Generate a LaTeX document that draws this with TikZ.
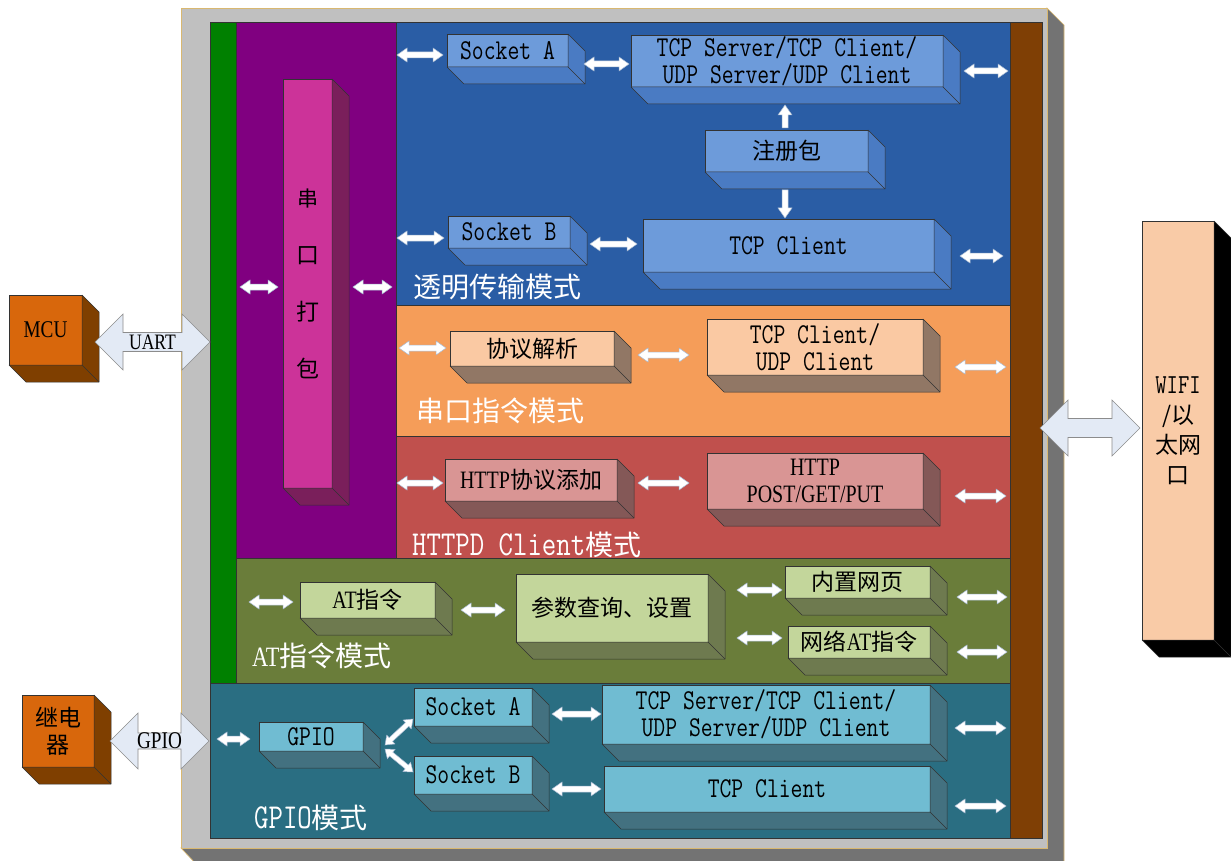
\documentclass[tikz,border=0pt]{standalone}
\usepackage{fontspec}
\setmainfont{Noto Sans CJK SC}
\newfontfamily\nser[FakeStretch=0.8]{Liberation Serif}
\usetikzlibrary{calc}
\definecolor{framegray}{HTML}{C0C0C0}
\definecolor{framedark}{HTML}{737373}
\definecolor{framegold}{HTML}{D9B870}
\definecolor{cgreen}{HTML}{008000}
\definecolor{cpurple}{HTML}{800080}
\definecolor{cblue}{HTML}{2A5DA5}
\definecolor{corange}{HTML}{F59D59}
\definecolor{cred}{HTML}{C0504D}
\definecolor{colive}{HTML}{6A7D3A}
\definecolor{cteal}{HTML}{2A6E82}
\definecolor{cbrown}{HTML}{7F3F05}
\definecolor{bluef}{HTML}{6D9BDA}
\definecolor{blues}{HTML}{4A7BC3}
\definecolor{pinkf}{HTML}{CC3399}
\definecolor{pinks}{HTML}{7A1F5B}
\definecolor{orangef}{HTML}{FAC9A3}
\definecolor{oranges}{HTML}{917765}
\definecolor{redf}{HTML}{D99594}
\definecolor{reds}{HTML}{845857}
\definecolor{olivef}{HTML}{C3D69B}
\definecolor{olives}{HTML}{6E7A4F}
\definecolor{tealf}{HTML}{70BCD2}
\definecolor{teals}{HTML}{437180}
\definecolor{mcuf}{HTML}{D8670C}
\definecolor{mcus}{HTML}{7F3F00}
\definecolor{wifif}{HTML}{F9CBA7}
\definecolor{arrbg}{HTML}{E3EAF5}
\definecolor{arrline}{HTML}{8C8C8C}
\definecolor{warrline}{HTML}{A9BBD3}
\newcommand\mo[1]{\scalebox{1}[1.25]{\ttfamily #1}}
\newcommand\ns[2][26]{{\nser\fontsize{#1}{#1}\selectfont #2}}
\tikzset{
  panel/.style={draw=black!80, line width=0.6pt, anchor=north west, outer sep=0pt, inner sep=0pt},
  cubefront/.style={draw=black!80, line width=0.5pt, outer sep=0pt, inner sep=0pt, align=center,
     text=black, anchor=north west, font=\fontsize{23}{27}\selectfont},
  cubeside/.style={draw=black!80, line width=0.5pt, line join=round},
  warr/.style={fill=white, draw=warrline, line width=0.5pt},
  barr/.style={fill=arrbg, draw=arrline, line width=0.6pt},
  lbl/.style={text=white, anchor=west, inner sep=0pt, font=\fontsize{28}{32}\selectfont}
}
\newcommand\cubebox[8]{%
  \node[cubefront, fill=#6, minimum width=#4pt, minimum height=#5pt] (#1) at (#2,#3) {#8};
  \filldraw[cubeside, fill=#7] (#1.north east) -- ++(17,17) -- ($(#1.south east)+(17,17)$)
     -- ($(#1.south west)+(17,17)$) -- (#1.south west) -- (#1.south east) -- cycle;
  \draw[cubeside] (#1.south east) -- ++(17,17);
}
\def\ah{10pt}\def\aw{7pt}\def\as{3pt}
\newcommand\dblarr[4][warr]{%
  \coordinate (#2s) at (#3); \coordinate (#2e) at (#4);
  \filldraw[#1] (#2s) -- ($(#2s)!\ah!(#2e)!\aw!90:(#2e)$) -- ($(#2s)!\ah!(#2e)!\as!90:(#2e)$)
    -- ($(#2e)!\ah!(#2s)!\as!-90:(#2s)$) -- ($(#2e)!\ah!(#2s)!\aw!-90:(#2s)$) -- (#2e)
    -- ($(#2e)!\ah!(#2s)!\aw!90:(#2s)$) -- ($(#2e)!\ah!(#2s)!\as!90:(#2s)$)
    -- ($(#2s)!\ah!(#2e)!\as!-90:(#2e)$) -- ($(#2s)!\ah!(#2e)!\aw!-90:(#2e)$) -- cycle;
}
\newcommand\sglarr[4][warr]{%
  \coordinate (#2s) at (#3); \coordinate (#2e) at (#4);
  \filldraw[#1] ($(#2s)!\as!90:(#2e)$) -- ($(#2e)!\ah!(#2s)!\as!-90:(#2s)$)
    -- ($(#2e)!\ah!(#2s)!\aw!-90:(#2s)$) -- (#2e)
    -- ($(#2e)!\ah!(#2s)!\aw!90:(#2s)$) -- ($(#2e)!\ah!(#2s)!\as!90:(#2s)$)
    -- ($(#2s)!\as!-90:(#2e)$) -- cycle;
}
\begin{document}
\begin{tikzpicture}[x=1pt,y=-1pt]
\useasboundingbox (0,0) rectangle (1231,861);
% outer frame
\filldraw[draw=framegold, line width=0.6pt, fill=framedark] (1047,8) -- (1064,25) -- (1064,866)
   -- (198,866) -- (181,848) -- (1047,848) -- cycle;
\node[panel, draw=framegold, fill=framegray, minimum width=866pt, minimum height=840pt] (frame) at (181,8) {};
% panels
\node[panel, fill=cgreen, minimum width=26pt, minimum height=661pt] (green) at (210,22) {};
\node[panel, fill=cpurple, minimum width=160pt, minimum height=536pt] (purple) at (236,22) {};
\node[panel, fill=cblue, minimum width=614pt, minimum height=283pt] (blue) at (396,22) {};
\node[panel, fill=corange, minimum width=614pt, minimum height=131pt] (orange) at (396,305) {};
\node[panel, fill=cred, minimum width=614pt, minimum height=122pt] (red) at (396,436) {};
\node[panel, fill=colive, minimum width=774pt, minimum height=125pt] (olive) at (236,558) {};
\node[panel, fill=cteal, minimum width=800pt, minimum height=155pt] (teal) at (210,683) {};
\node[panel, fill=cbrown, minimum width=32pt, minimum height=816pt] (brown) at (1010,22) {};
% boxes
\cubebox{pack}{283}{79}{49}{409}{pinkf}{pinks}{\fontsize{21}{27}\selectfont 串\\[30pt]口\\[30pt]打\\[30pt]包}
\cubebox{sockA}{447}{34}{121}{33}{bluef}{blues}{\mo{Socket A}}
\cubebox{tcpsA}{631}{35}{312}{52}{bluef}{blues}{\mo{TCP Server/TCP Client/}\\\mo{UDP Server/UDP Client}}
\cubebox{reg}{705}{130}{163}{42}{bluef}{blues}{注册包}
\cubebox{sockB}{448}{216}{122}{32}{bluef}{blues}{\mo{Socket B}}
\cubebox{tcpcA}{643}{219}{291}{53}{bluef}{blues}{\mo{TCP Client}}
\cubebox{proto}{450}{331}{164}{35}{orangef}{oranges}{协议解析}
\cubebox{tcpuB}{707}{319}{216}{56}{orangef}{oranges}{\mo{TCP Client/}\\\mo{UDP Client}}
\cubebox{httpadd}{445}{459}{172}{42}{redf}{reds}{\ns[25]{HTTP}协议添加}
\cubebox{httpm}{707}{453}{216}{56}{redf}{reds}{\ns[25]{HTTP}\\\ns[25]{POST/GET/PUT}}
\cubebox{at}{300}{582}{135}{36}{olivef}{olives}{\ns[25]{AT}指令}
\cubebox{param}{516}{574}{192}{68}{olivef}{olives}{参数查询、设置}
\cubebox{web}{785}{566}{145}{32}{olivef}{olives}{内置网页}
\cubebox{netat}{788}{626}{142}{32}{olivef}{olives}{网络\ns[25]{AT}指令}
\cubebox{gpio}{259}{722}{104}{29}{tealf}{teals}{\mo{GPIO}}
\cubebox{sockGA}{414}{688}{118}{38}{tealf}{teals}{\mo{Socket A}}
\cubebox{sockGB}{414}{756}{118}{38}{tealf}{teals}{\mo{Socket B}}
\cubebox{tcpsG}{602}{685}{328}{59}{tealf}{teals}{\mo{TCP Server/TCP Client/}\\\mo{UDP Server/UDP Client}}
\cubebox{tcpcG}{604}{766}{326}{46}{tealf}{teals}{\mo{TCP Client}}
\cubebox{mcu}{9}{295}{73}{70}{mcuf}{mcus}{\ns[24]{MCU}}
\cubebox{relay}{22}{695}{72}{72}{mcuf}{mcus}{继电\\器}
\cubebox{wifi}{1142}{221}{72}{419}{wifif}{black}{\fontsize{22}{26}\selectfont\mo{WIFI}\\[3pt]/以\\[3pt]太网\\[3pt]口}
% small arrows
\dblarr{b1}{397,55}{443,55}
\dblarr{b2}{584,64}{629,64}
\dblarr{b3}{964,71}{1008,71}
\sglarr{bu}{785,128}{785,105}
\sglarr{bd}{785,190}{785,218}
\dblarr{b6}{397,238}{444,238}
\dblarr{b7}{590,244}{637,244}
\dblarr{b8}{960,256}{1003,256}
\dblarr{p1}{240,287}{278,287}
\dblarr{p2}{353,287}{392,287}
\dblarr{o1}{399,348}{446,348}
\dblarr{o2}{638,355}{689,355}
\dblarr{o3}{955,367}{1006,367}
\dblarr{r1}{397,483}{443,483}
\dblarr{r2}{638,483}{689,483}
\dblarr{r3}{955,496}{1006,496}
\dblarr{a1}{249,602}{293,602}
\dblarr{a2}{461,610}{505,610}
\dblarr{a3}{737,590}{782,590}
\dblarr{a4}{737,638}{782,638}
\dblarr{a5}{957,597}{1007,597}
\dblarr{a6}{957,652}{1007,652}
\dblarr{g1}{217,739}{250,739}
\dblarr{g4}{552,714}{601,714}
\dblarr{g5}{552,789}{601,789}
\dblarr{g6}{955,728}{1006,728}
\dblarr{g7}{955,806}{1006,806}
\begin{scope}
\def\ah{8pt}\def\aw{6pt}\def\as{2.5pt}
\dblarr{g2}{385,745}{413,719}
\dblarr{g3}{385,749}{413,772}
\end{scope}
% big arrows
\begin{scope}
\def\ah{28pt}\def\aw{28pt}\def\as{9.5pt}
\dblarr[barr]{uart}{95,342}{210,342}
\dblarr[barr]{net}{1040,428}{1140,428}
\def\as{8pt}
\dblarr[barr]{gpa}{110,741}{209,741}
\end{scope}
\node[inner sep=0pt] (uartl) at ($(uarts)!.5!(uarte)$) {\ns[22]{UART}};
\node[inner sep=0pt] (gpal) at ($(gpas)!.5!(gpae)$) {\ns[24]{GPIO}};
% section labels
\node[lbl] (lblT) at (413,287) {透明传输模式};
\node[lbl] (lblS) at (416,411) {串口指令模式};
\node[lbl] (lblH) at (412,545) {\mo{HTTPD Client}模式};
\node[lbl] (lblA) at (252,656) {\ns[28]{AT}指令模式};
\node[lbl] (lblG) at (254,818) {\mo{GPIO}模式};
\end{tikzpicture}
\end{document}
